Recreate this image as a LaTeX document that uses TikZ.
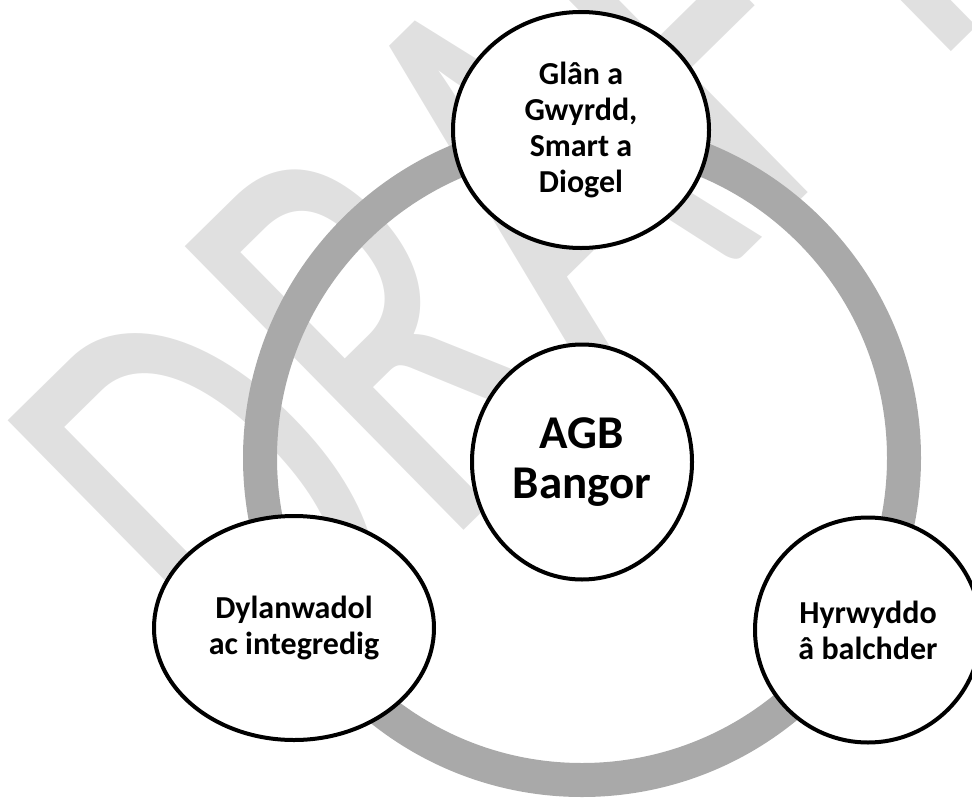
\documentclass[tikz,border=0pt]{standalone}
\usepackage{fontspec}
\setmainfont{Carlito}
\usetikzlibrary{shapes.geometric}
\definecolor{ringgray}{RGB}{169,169,169}
\definecolor{wmgray}{RGB}{224,224,224}
\tikzset{
  bubble/.style={ellipse, draw=black, line width=4pt, fill=white, inner sep=0pt,
    align=center, font=\bfseries\fontsize{32}{36}\selectfont},
  hub/.style={bubble, font=\bfseries\fontsize{47}{50}\selectfont},
  watermark/.style={text=wmgray, inner sep=0pt, font=\fontsize{400}{400}\selectfont},
  ring/.style={draw=ringgray, line width=34pt}
}
\begin{document}
\begin{tikzpicture}[x=1pt,y=-1pt]
\useasboundingbox (0,0) rectangle (972,798);
\begin{scope}
\clip (0,0) rectangle (972,798);
\node[watermark, rotate=44.5, anchor=base west] (wm) at (267.7,723.4) {\scalebox{1}[1.55]{DRAFT}};
\coordinate (ringc) at (582,458);
\draw[ring] (ringc) circle[radius=322pt];
\node[bubble, minimum width=256pt, minimum height=236pt] (top) at (581,130) {Glân a\\Gwyrdd,\\Smart a\\Diogel};
\node[hub, minimum width=220pt, minimum height=235pt] (hubnode) at (582,462) {AGB\\Bangor};
\node[bubble, minimum width=280pt, minimum height=224pt] (left) at (294,628) {Dylanwadol\\ac integredig};
\node[bubble, minimum width=226pt, minimum height=225pt] (right) at (868,630) {Hyrwyddo\\â balchder};
\end{scope}
\end{tikzpicture}
\end{document}
